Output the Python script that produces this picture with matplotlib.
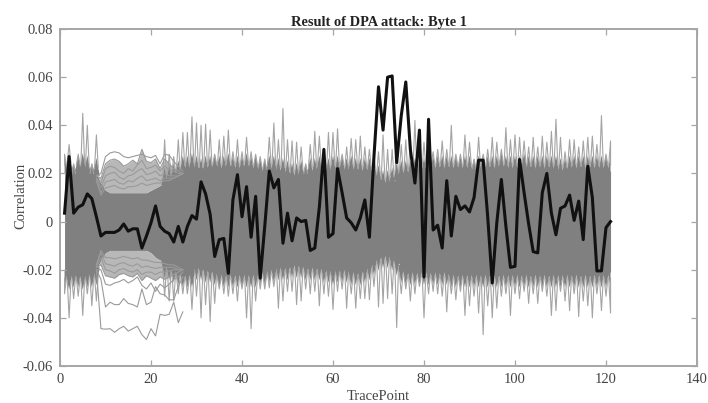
import numpy as np
from matplotlib import pyplot as plt

plt.rcParams['font.family'] = ['Liberation Serif', 'DejaVu Serif']

#Correlation of the correct key guess, TracePoint 1 to 121
black_trace = [
    0.0035, 0.027, 0.0035, 0.006, 0.007, 0.0115, 0.0095, 0.002, -0.006, -0.0045,
    -0.0045, -0.0045, -0.0035, -0.001, -0.004, -0.003, -0.003, -0.011, -0.006, -0.0005,
    0.0065, -0.002, -0.004, -0.005, -0.0085, -0.002, -0.0085, -0.002, 0.0025, 0.001,
    0.0165, 0.0115, 0.003, -0.0145, -0.0075, -0.007, -0.0215, 0.009, 0.0195, 0.002,
    0.0145, -0.0065, 0.0105, -0.0235, -0.002, 0.021, 0.014, 0.0175, -0.009, 0.0035,
    -0.008, 0.0015, 0, 0.0005, -0.012, -0.011, 0.006, 0.03, -0.0065, -0.005,
    0.022, 0.012, 0.0015, -0.0005, -0.0035, 0.0015, 0.009, -0.0065, 0.027, 0.056,
    0.038, 0.06, 0.0605, 0.0245, 0.044, 0.058, 0.03, 0.016, 0.038, -0.023,
    0.0425, -0.0035, -0.0015, -0.011, 0.017, -0.006, 0.0105, 0.005, 0.0065, 0.004,
    0.01, 0.0255, 0.0255, 0.002, -0.0255, -0.0005, 0.0175, -0.002, -0.019, -0.0186,
    0.0258, 0.012, -0.001, -0.0125, -0.013, 0.012, 0.02, 0.0035, -0.0055, 0.0055,
    0.0065, 0.011, 0.0005, 0.0085, -0.0075, 0.023, 0.01, -0.0205, -0.0205, -0.0025,
    0.0]

#Highest and lowest value reached by the grey traces at each TracePoint
upper_peak = [
    0.028, 0.032, 0.024, 0.028, 0.045, 0.04, 0.024, 0.036, 0.035, 0.028,
    0.029, 0.029, 0.028, 0.027, 0.027, 0.027, 0.028, 0.035, 0.03, 0.027,
    0.035, 0.024, 0.034, 0.028, 0.027, 0.034, 0.037, 0.037, 0.0435, 0.041,
    0.04, 0.0405, 0.038, 0.028, 0.034, 0.0355, 0.038, 0.029, 0.034, 0.029,
    0.035, 0.029, 0.028, 0.027, 0.026, 0.035, 0.041, 0.034, 0.047, 0.034,
    0.0335, 0.033, 0.031, 0.024, 0.032, 0.0375, 0.0355, 0.028, 0.037, 0.037,
    0.0385, 0.028, 0.031, 0.0345, 0.034, 0.0355, 0.031, 0.03, 0.027, 0.029,
    0.036, 0.03, 0.03, 0.03, 0.032, 0.034, 0.034, 0.042, 0.038, 0.033,
    0.03, 0.029, 0.03, 0.0335, 0.03, 0.04, 0.028, 0.028, 0.036, 0.033,
    0.026, 0.035, 0.028, 0.03, 0.035, 0.033, 0.03, 0.039, 0.034, 0.036,
    0.035, 0.0335, 0.031, 0.035, 0.031, 0.0355, 0.033, 0.0375, 0.0425, 0.035,
    0.029, 0.034, 0.034, 0.031, 0.0335, 0.035, 0.0355, 0.032, 0.044, 0.028,
    0.0335]
lower_peak = [
    -0.03, -0.04, -0.032, -0.031, -0.039, -0.03, -0.035, -0.033, -0.03, -0.027,
    -0.026, -0.026, -0.025, -0.025, -0.026, -0.025, -0.026, -0.03, -0.03, -0.03,
    -0.028, -0.03, -0.031, -0.033, -0.033, -0.03, -0.03, -0.03, -0.0365, -0.031,
    -0.04, -0.0345, -0.0415, -0.034, -0.028, -0.03, -0.031, -0.03, -0.033, -0.028,
    -0.04, -0.0445, -0.033, -0.028, -0.028, -0.0275, -0.027, -0.036, -0.033, -0.029,
    -0.029, -0.0345, -0.033, -0.028, -0.03, -0.029, -0.035, -0.03, -0.031, -0.0365,
    -0.029, -0.028, -0.036, -0.03, -0.036, -0.032, -0.032, -0.0325, -0.027, -0.0355,
    -0.034, -0.032, -0.03, -0.044, -0.03, -0.028, -0.033, -0.03, -0.027, -0.04,
    -0.03, -0.029, -0.03, -0.031, -0.0375, -0.03, -0.0325, -0.029, -0.039, -0.035,
    -0.031, -0.038, -0.047, -0.035, -0.04, -0.036, -0.031, -0.03, -0.039, -0.03,
    -0.032, -0.029, -0.034, -0.03, -0.034, -0.029, -0.031, -0.039, -0.037, -0.029,
    -0.033, -0.037, -0.03, -0.0395, -0.033, -0.035, -0.04, -0.03, -0.037, -0.031,
    -0.038]

#Edge of the solid grey mass
upper_body = [
    0.021, 0.022, 0.021, 0.021, 0.022, 0.021, 0.021, 0.02, 0.016, 0.013,
    0.012, 0.012, 0.012, 0.012, 0.012, 0.012, 0.012, 0.012, 0.012, 0.013,
    0.014, 0.015, 0.016, 0.017, 0.018, 0.019, 0.021, 0.021, 0.022, 0.021,
    0.02, 0.021, 0.021, 0.022, 0.021, 0.021, 0.022, 0.021, 0.021, 0.021,
    0.022, 0.021, 0.021, 0.02, 0.02, 0.021, 0.021, 0.02, 0.02, 0.019,
    0.018, 0.018, 0.019, 0.02, 0.02, 0.02, 0.021, 0.021, 0.02, 0.021,
    0.021, 0.021, 0.02, 0.021, 0.02, 0.02, 0.02, 0.02, 0.019, 0.017,
    0.015, 0.015, 0.016, 0.018, 0.019, 0.019, 0.019, 0.02, 0.02, 0.02,
    0.021, 0.021, 0.021, 0.021, 0.021, 0.021, 0.021, 0.021, 0.021, 0.021,
    0.021, 0.021, 0.022, 0.021, 0.021, 0.021, 0.022, 0.021, 0.021, 0.021,
    0.021, 0.022, 0.021, 0.021, 0.021, 0.021, 0.021, 0.021, 0.021, 0.02,
    0.02, 0.021, 0.021, 0.021, 0.021, 0.021, 0.021, 0.021, 0.021, 0.021,
    0.021]
lower_body = [
    -0.021, -0.022, -0.021, -0.021, -0.022, -0.021, -0.021, -0.02, -0.016, -0.013,
    -0.012, -0.012, -0.012, -0.012, -0.012, -0.012, -0.012, -0.012, -0.012, -0.013,
    -0.015, -0.016, -0.017, -0.018, -0.019, -0.02, -0.021, -0.021, -0.021, -0.018,
    -0.018, -0.019, -0.019, -0.02, -0.021, -0.021, -0.021, -0.021, -0.021, -0.021,
    -0.021, -0.021, -0.021, -0.02, -0.02, -0.019, -0.019, -0.018, -0.018, -0.018,
    -0.017, -0.017, -0.017, -0.018, -0.018, -0.018, -0.018, -0.019, -0.019, -0.02,
    -0.019, -0.019, -0.019, -0.02, -0.02, -0.02, -0.019, -0.018, -0.016, -0.014,
    -0.013, -0.013, -0.014, -0.016, -0.019, -0.02, -0.02, -0.02, -0.02, -0.02,
    -0.02, -0.02, -0.02, -0.02, -0.02, -0.021, -0.021, -0.021, -0.021, -0.021,
    -0.021, -0.021, -0.021, -0.021, -0.021, -0.021, -0.021, -0.021, -0.021, -0.021,
    -0.021, -0.021, -0.021, -0.021, -0.021, -0.021, -0.021, -0.021, -0.021, -0.021,
    -0.021, -0.021, -0.021, -0.021, -0.021, -0.021, -0.021, -0.021, -0.021, -0.021,
    -0.021]

#Separate grey traces that stand out between TracePoint 8 and 27
loop_points = list(range(8, 28))
upper_loops = [
    [0.019, 0.02, 0.027, 0.0285, 0.029, 0.0285, 0.027, 0.0265, 0.027, 0.0275, 0.028, 0.027, 0.0265, 0.0275, 0.024, 0.028, 0.0275, 0.025, 0.023, 0.021],
    [0.019, 0.018, 0.024, 0.0255, 0.026, 0.025, 0.023, 0.024, 0.0255, 0.024, 0.03, 0.025, 0.0245, 0.026, 0.022, 0.026, 0.024, 0.022, 0.021, 0.02],
    [0.018, 0.016, 0.022, 0.023, 0.0225, 0.021, 0.02, 0.022, 0.021, 0.0235, 0.0255, 0.022, 0.0225, 0.0235, 0.021, 0.023, 0.0215, 0.021, 0.02, 0.02],
    [0.018, 0.014, 0.019, 0.02, 0.0205, 0.0185, 0.0175, 0.019, 0.0195, 0.021, 0.022, 0.0195, 0.02, 0.021, 0.019, 0.02, 0.019, 0.019, 0.019, 0.02],
    [0.017, 0.012, 0.0165, 0.017, 0.0175, 0.016, 0.0155, 0.017, 0.0165, 0.018, 0.019, 0.017, 0.0175, 0.018, 0.017, 0.018, 0.018, 0.018, 0.019, 0.02],
    [0.017, 0.011, 0.014, 0.0145, 0.015, 0.014, 0.0135, 0.0145, 0.0145, 0.015, 0.016, 0.015, 0.0155, 0.016, 0.016, 0.017, 0.017, 0.018, 0.019, 0.02],
]
lower_loops = [
    [-0.02, -0.0445, -0.0447, -0.0445, -0.046, -0.0445, -0.0435, -0.0455, -0.0445, -0.0435, -0.047, -0.049, -0.0445, -0.0475, -0.0385, -0.039, -0.0385, -0.0335, -0.042, -0.0375],
    [-0.02, -0.024, -0.0355, -0.0335, -0.0345, -0.0345, -0.032, -0.034, -0.0345, -0.0355, -0.028, -0.0345, -0.0335, -0.027, -0.03, -0.0305, -0.0325, -0.0325, -0.027, -0.023],
    [-0.02, -0.02, -0.026, -0.0265, -0.0255, -0.025, -0.024, -0.0255, -0.0245, -0.023, -0.0265, -0.028, -0.0255, -0.029, -0.026, -0.0275, -0.026, -0.024, -0.023, -0.021],
    [-0.019, -0.018, -0.0225, -0.023, -0.0235, -0.022, -0.0215, -0.0225, -0.023, -0.0215, -0.0245, -0.0225, -0.0235, -0.0245, -0.023, -0.024, -0.023, -0.022, -0.021, -0.02],
    [-0.019, -0.015, -0.02, -0.0205, -0.0215, -0.02, -0.0195, -0.0205, -0.021, -0.02, -0.022, -0.021, -0.021, -0.022, -0.021, -0.021, -0.0205, -0.02, -0.02, -0.02],
    [-0.018, -0.013, -0.0175, -0.018, -0.0185, -0.0175, -0.017, -0.018, -0.0185, -0.0175, -0.019, -0.0185, -0.019, -0.0195, -0.019, -0.019, -0.019, -0.019, -0.02, -0.02],
    [-0.018, -0.012, -0.015, -0.015, -0.0155, -0.015, -0.0145, -0.015, -0.0155, -0.015, -0.016, -0.016, -0.0165, -0.017, -0.017, -0.0175, -0.018, -0.018, -0.019, -0.02],
]

x_ticks = [0, 20, 40, 60, 80, 100, 120, 140]
y_ticks = [-0.06, -0.04, -0.02, 0, 0.02, 0.04, 0.06, 0.08]
y_labels = ['-0.06', '-0.04', '-0.02', '0', '0.02', '0.04', '0.06', '0.08']

points = np.arange(1, len(black_trace)+1)
grey = '#808080'
text_color = '#444444'
frame_color = '#a6a6a6'

fig = plt.figure(figsize=(7.08, 4.03), dpi=100)
ax = fig.add_axes([60/708, 1-366/403, 637/708, 337/403])

#solid mass of traces
ax.fill_between(points, lower_body, upper_body, color=grey, lw=0)

#the speckled band where single traces overlap, between TracePoint 8 and 27
ax.fill_between(loop_points, upper_loops[1], upper_body[7:27], color='#b8b8b8', lw=0)
ax.fill_between(loop_points, lower_loops[3], lower_body[7:27], color='#b8b8b8', lw=0)

#comb of short teeth on the mass and a thin spike to the peak, for every TracePoint
for i in range(len(points)):
    t = points[i]
    left = max(t-0.75, 1)
    right = min(t+0.75, 121)
    #no comb where the separate traces take over
    if 9 <= t <= 22:
        continue
    top = min(upper_peak[i], upper_body[i]+0.0065)
    ax.fill([left, t, right], [upper_body[i]-0.001, top, upper_body[i]-0.001], color=grey, lw=0)
    ax.plot([max(t-0.4, 1), t, min(t+0.4, 121)], [top-0.004, upper_peak[i], top-0.004],
            color='#a4a4a4', lw=0.8)
    bottom = max(lower_peak[i], lower_body[i]-0.0065)
    ax.fill([left, t, right], [lower_body[i]+0.001, bottom, lower_body[i]+0.001], color=grey, lw=0)
    ax.plot([max(t-0.4, 1), t, min(t+0.4, 121)], [bottom+0.004, lower_peak[i], bottom+0.004],
            color='#a4a4a4', lw=0.8)

for trace in upper_loops:
    ax.plot(loop_points, trace, color='#9a9a9a', lw=0.8)
for trace in lower_loops:
    ax.plot(loop_points, trace, color='#9a9a9a', lw=0.8)

ax.plot(points, black_trace, color='#111111', lw=2.2, solid_joinstyle='round')

ax.set_xlim(0, 140)
ax.set_ylim(-0.06, 0.08)
ax.set_xticks(x_ticks)
ax.set_yticks(y_ticks)
ax.set_yticklabels(y_labels)
ax.tick_params(direction='in', top=True, right=True, length=4, width=0.9,
               color=frame_color, labelcolor=text_color, labelsize=10.5, pad=5)
for side in ax.spines.values():
    side.set_color(frame_color)
    side.set_linewidth(1.4)

ax.set_xlabel('TracePoint', fontsize=10.5, color=text_color, labelpad=3)
ax.set_ylabel('Correlation', fontsize=10.5, color=text_color, labelpad=-3, y=0.505)
ax.set_title('Result of DPA attack: Byte 1', fontsize=10.4, fontweight='bold', color='#222222', pad=2)

fig.savefig('out.png', dpi=100)
